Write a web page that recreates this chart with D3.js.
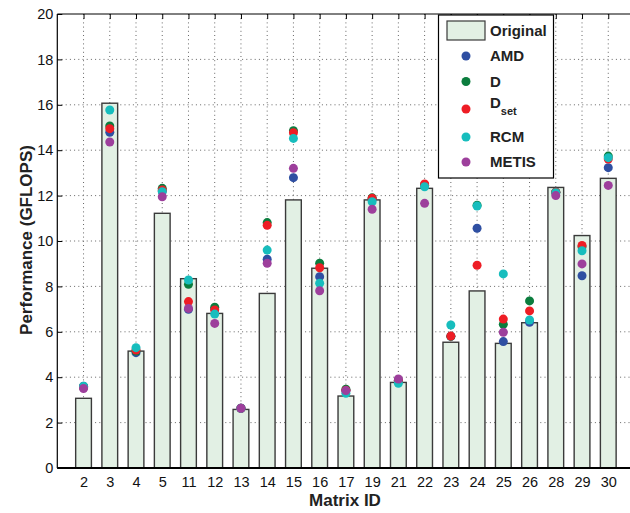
<!DOCTYPE html>
<html>
<head>
<meta charset="utf-8">
<script src="https://cdn.jsdelivr.net/npm/d3@7/dist/d3.min.js"></script>
<style>
  html, body { margin: 0; padding: 0; background: #fff; overflow: hidden; }
  svg { display: block; font-family: "Liberation Sans", Arial, Helvetica, sans-serif; }
</style>
</head>
<body>
<svg id="chart" width="630" height="513"></svg>
<script>
// Matrix IDs on the x axis
const matrixIds = ["2","3","4","5","11","12","13","14","15","16","17","19","21","22","23","24","25","26","28","29","30"];

// Performance (GFLOPS) of the original ordering, drawn as bars
const original = [3.07,16.07,5.15,11.22,8.34,6.81,2.58,7.69,11.81,8.80,3.17,11.81,3.77,12.32,5.54,7.80,5.49,6.40,12.36,10.24,12.76];

// Performance after each reordering, drawn as dots (null = no result)
const amd   = [3.60,14.79,5.08,12.20,6.99,7.00,2.63,9.20,12.79,8.43,3.40,11.85,3.85,12.45,5.80,10.56,5.57,6.42,12.15,8.47,13.23];
const dOrd  = [3.55,15.07,5.15,12.32,8.09,7.08,2.63,10.81,14.86,9.02,3.47,11.90,3.85,12.45,5.80,11.58,6.33,7.36,12.15,9.75,13.74];
const dSet  = [3.55,14.95,5.20,12.25,7.33,6.96,2.63,10.69,14.77,8.82,3.42,11.88,3.85,12.51,5.81,8.93,6.56,6.92,12.15,9.80,13.61];
const rcm   = [3.60,15.77,5.30,12.17,8.28,6.78,2.63,9.60,14.52,8.14,3.29,11.73,3.73,12.39,6.30,11.54,8.55,6.52,12.13,9.57,13.67];
const metis = [3.50,14.36,null,11.95,7.03,6.37,2.63,9.02,13.20,7.81,3.41,11.40,3.92,11.66,null,null,5.98,null,12.00,8.99,12.45];

const yTicks = [0,2,4,6,8,10,12,14,16,18,20];

const series = [
  { name: "AMD",   values: amd,   color: "#2f4fa2" },
  { name: "D",     values: dOrd,  color: "#0b7d3e" },
  { name: "Dset",  values: dSet,  color: "#ee1d25" },
  { name: "RCM",   values: rcm,   color: "#17bdbd" },
  { name: "METIS", values: metis, color: "#9d3f9c" }
];

const svg = d3.select("#chart");
const plotL = 57.3, plotR = 634.5, plotT = 14, plotB = 468;
const dotR = 4.5;

const x = d3.scalePoint().domain(matrixIds).range([plotL, plotR]).padding(1);
const y = d3.scaleLinear().domain([0, 20]).range([plotB, plotT]);
const barW = x.step() * 0.6;

// dotted grid
const grid = svg.append("g").attr("stroke", "#555").attr("stroke-width", 0.9)
  .attr("stroke-dasharray", "1,3.2");
grid.selectAll("line.h").data(yTicks.filter(t => t > 0 && t < 20)).join("line")
  .attr("class", "h")
  .attr("x1", plotL).attr("x2", plotR)
  .attr("y1", d => y(d)).attr("y2", d => y(d));
grid.selectAll("line.v").data(matrixIds).join("line")
  .attr("class", "v")
  .attr("x1", d => x(d)).attr("x2", d => x(d))
  .attr("y1", plotT).attr("y2", plotB);

// bars
svg.append("g").selectAll("rect").data(original).join("rect")
  .attr("x", (d, i) => x(matrixIds[i]) - barW / 2)
  .attr("width", barW)
  .attr("y", d => y(d))
  .attr("height", d => y(0) - y(d))
  .attr("fill", "#e2f0e4")
  .attr("stroke", "#3a3a3a")
  .attr("stroke-width", 1.4);

// dots, one series after another
series.forEach(s => {
  svg.append("g").selectAll("circle")
    .data(s.values.map((v, i) => ({ v, id: matrixIds[i] })).filter(d => d.v != null))
    .join("circle")
    .attr("cx", d => x(d.id))
    .attr("cy", d => y(d.v))
    .attr("r", dotR)
    .attr("fill", s.color);
});

// axes frame
const frame = svg.append("g").attr("stroke", "#000").attr("fill", "none");
frame.append("line").attr("x1", plotL).attr("x2", plotR).attr("y1", plotT).attr("y2", plotT).attr("stroke-width", 1);
frame.append("line").attr("x1", plotL).attr("x2", plotR).attr("y1", plotB).attr("y2", plotB).attr("stroke-width", 1.8);
frame.append("line").attr("x1", plotL).attr("x2", plotL).attr("y1", plotT).attr("y2", plotB).attr("stroke-width", 1.2);

// y axis (ticks pointing inward)
const yAxis = svg.append("g").attr("transform", `translate(${plotL},0)`)
  .call(d3.axisRight(y).tickValues(yTicks).tickSize(5).tickFormat(""));
yAxis.select(".domain").remove();
yAxis.selectAll("line").attr("stroke", "#000");
svg.append("g").selectAll("text").data(yTicks).join("text")
  .attr("x", plotL - 4).attr("y", d => y(d)).attr("dy", "0.36em")
  .attr("text-anchor", "end").attr("font-size", 14.5).attr("fill", "#111")
  .text(d => d);

// top ticks and bottom axis labels
const xTop = svg.append("g").attr("transform", `translate(0,${plotT})`)
  .call(d3.axisBottom(x).tickSize(5).tickFormat(""));
xTop.select(".domain").remove();
xTop.selectAll("line").attr("stroke", "#000");
const xBot = svg.append("g").attr("transform", `translate(0,${plotB})`)
  .call(d3.axisBottom(x).tickSize(0).tickPadding(9));
xBot.select(".domain").remove();
xBot.selectAll("text").attr("font-size", 14.5).attr("fill", "#111")
  .attr("font-family", "'Liberation Sans', Arial, sans-serif");

// axis titles
svg.append("text").attr("x", 345).attr("y", 506)
  .attr("text-anchor", "middle").attr("font-size", 17).attr("font-weight", "bold").attr("fill", "#222")
  .text("Matrix ID");
svg.append("text").attr("transform", "translate(32,240) rotate(-90)")
  .attr("text-anchor", "middle").attr("font-size", 17).attr("font-weight", "bold").attr("fill", "#222")
  .text("Performance (GFLOPS)");

// legend
const lg = svg.append("g");
lg.append("rect").attr("x", 438.5).attr("y", 15).attr("width", 115).attr("height", 163)
  .attr("fill", "#fff").attr("stroke", "#000").attr("stroke-width", 1.2);
lg.append("rect").attr("x", 447).attr("y", 21).attr("width", 38).attr("height", 19)
  .attr("fill", "#e2f0e4").attr("stroke", "#3a3a3a").attr("stroke-width", 1.2);
lg.append("text").attr("x", 490).attr("y", 36).attr("font-size", 15).attr("font-weight", "bold")
  .attr("fill", "#222").text("Original");
const rowY = [56, 81.5, 109, 137, 162];
series.forEach((s, i) => {
  lg.append("circle").attr("cx", 466).attr("cy", rowY[i]).attr("r", dotR).attr("fill", s.color);
  const t = lg.append("text").attr("x", 490).attr("y", rowY[i]).attr("dy", "0.36em")
    .attr("font-size", 15).attr("font-weight", "bold").attr("fill", "#222");
  if (s.name === "Dset") {
    t.attr("dy", "0").attr("y", rowY[i] - 1).text("D");
    t.append("tspan").attr("dy", 7).attr("font-size", 11).text("set");
  } else {
    t.text(s.name);
  }
});
</script>
</body>
</html>
